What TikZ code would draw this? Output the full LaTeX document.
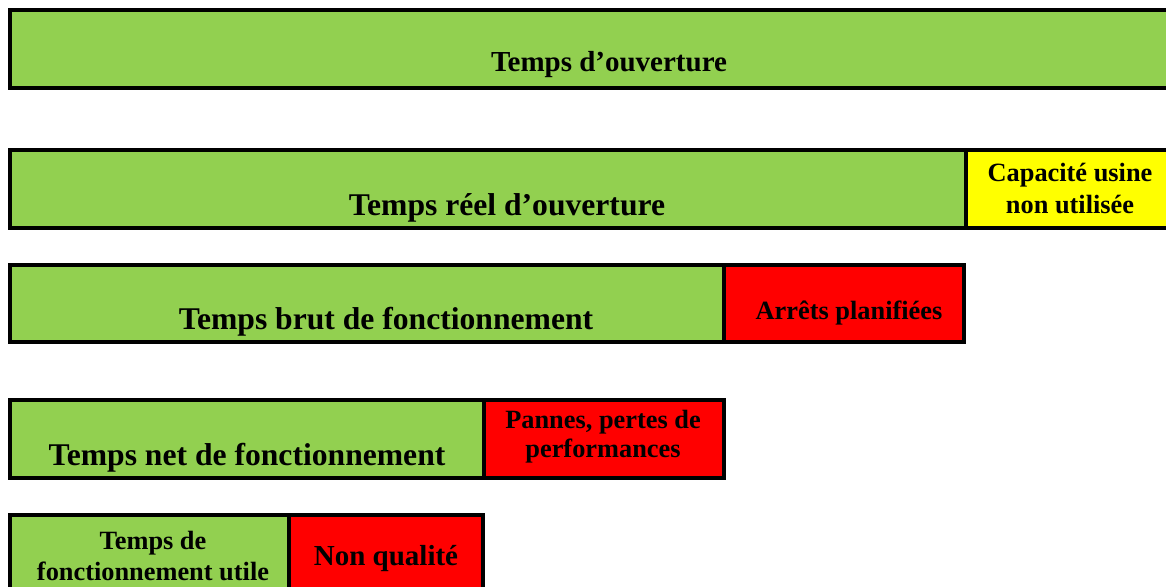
\documentclass[tikz,border=0pt]{standalone}
\usepackage{fontspec}
\setmainfont{Liberation Serif}
\begin{document}
\begin{tikzpicture}[x=0.02cm,y=-0.02cm,
  bar/.style={draw=black,line width=0.08cm},
  run/.style={bar,fill=runGreen},
  loss/.style={bar,fill=lossRed},
  idle/.style={bar,fill=idleYellow},
  lbl/.style={anchor=base,inner sep=0pt,font=\bfseries},
  big/.style={lbl,font=\bfseries\fontsize{18}{20}\selectfont},
  mid/.style={lbl,font=\bfseries\fontsize{16.5}{18}\selectfont},
  small/.style={lbl,font=\bfseries\fontsize{15}{17}\selectfont}]
\definecolor{runGreen}{RGB}{146,208,80}
\definecolor{lossRed}{RGB}{255,0,0}
\definecolor{idleYellow}{RGB}{255,255,0}
\useasboundingbox (0,0) rectangle (1166,586);
\clip (0,0) rectangle (1166,586);

% opening time
\draw[run] (10,10) rectangle (1175,88);
\node[mid] (t1) at (609,71) {Temps d’ouverture};

% actual opening time
\draw[run] (10,150) rectangle (966,228);
\draw[idle] (966,150) rectangle (1175,228);
\node[big] (t2) at (507,215) {Temps réel d’ouverture};
\node[small] (c1) at (1070,181) {Capacité usine};
\node[small] (c2) at (1070,213) {non utilisée};

% gross operating time
\draw[run] (10,265) rectangle (723.5,342);
\draw[loss] (723.5,265) rectangle (964,342);
\node[big] (t3) at (386,329) {Temps brut de fonctionnement};
\node[small] (a1) at (849,319) {Arrêts planifiées};

% net operating time
\draw[run] (10,400) rectangle (483.5,478);
\draw[loss] (483.5,400) rectangle (724,478);
\node[big] (t4) at (247,465) {Temps net de fonctionnement};
\node[small] (p1) at (603,428) {Pannes, pertes de};
\node[small] (p2) at (603,457) {performances};

% useful operating time
\draw[run] (10,515) rectangle (288.5,600);
\draw[loss] (288.5,515) rectangle (483,600);
\node[small] (u1) at (153,549) {Temps de};
\node[small] (u2) at (153,580) {fonctionnement utile};
\node[mid] (n1) at (386,565) {Non qualité};
\end{tikzpicture}
\end{document}
